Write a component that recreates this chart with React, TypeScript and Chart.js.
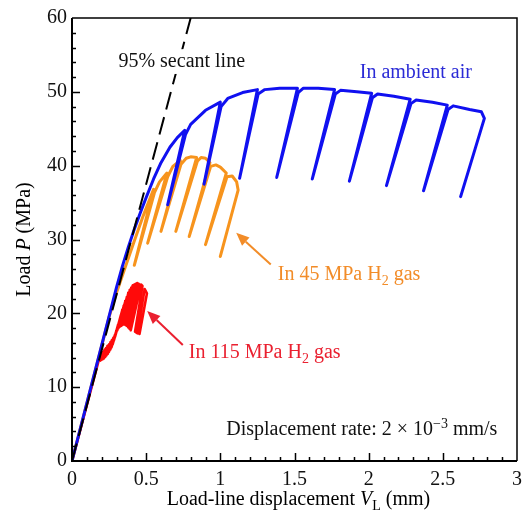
import React, { useEffect, useRef } from "react";
import { Chart, registerables } from "chart.js";

Chart.register(...registerables);

// ---------------- data ----------------
const xTickValues = [0, 0.5, 1, 1.5, 2, 2.5, 3];
const yTickValues = [0, 10, 20, 30, 40, 50, 60];

// 95% secant line
const secantX = [0, 0.8];
const secantY = [0, 60];

// In ambient air
const airX = [0, 0.30, 0.34, 0.38, 0.42, 0.46, 0.50, 0.55, 0.60, 0.66, 0.71, 0.76, 0.645, 0.765, 0.80, 0.90, 1.00, 0.89, 1.005, 1.05, 1.15, 1.25, 1.13, 1.255, 1.30, 1.40, 1.52, 1.38, 1.525, 1.56, 1.66, 1.77, 1.62, 1.775, 1.81, 1.92, 2.02, 1.87, 2.025, 2.06, 2.17, 2.28, 2.12, 2.285, 2.32, 2.43, 2.53, 2.37, 2.535, 2.57, 2.68, 2.76, 2.78, 2.62];
const airY = [0, 23.5, 26.4, 29.0, 31.4, 33.6, 35.7, 38.2, 40.4, 42.5, 43.8, 44.8, 34.7, 44.2, 45.6, 47.5, 48.6, 37.5, 48.0, 49.1, 49.9, 50.3, 38.3, 49.7, 50.3, 50.5, 50.5, 38.4, 49.9, 50.5, 50.5, 50.3, 38.2, 49.7, 50.2, 50.0, 49.8, 37.9, 49.2, 49.7, 49.4, 49.0, 37.3, 48.4, 48.9, 48.6, 48.2, 36.6, 47.6, 48.1, 47.6, 47.3, 46.4, 35.8];

// In 45 MPa H2 gas
const h45X = [0, 0.25, 0.30, 0.36, 0.42, 0.48, 0.55, 0.42, 0.555, 0.59, 0.64, 0.51, 0.645, 0.68, 0.73, 0.60, 0.735, 0.77, 0.80, 0.84, 0.70, 0.845, 0.87, 0.90, 0.93, 0.79, 0.935, 0.97, 1.00, 1.04, 0.90, 1.045, 1.08, 1.11, 1.12, 1.00];
const h45Y = [0, 19.5, 22.8, 26.3, 29.8, 33.2, 36.8, 26.5, 36.3, 37.8, 39.0, 29.5, 38.5, 39.9, 40.7, 31.1, 40.2, 41.0, 41.2, 41.1, 31.1, 40.6, 41.1, 41.0, 40.4, 30.4, 39.9, 40.1, 39.8, 39.0, 29.3, 38.5, 38.6, 37.8, 36.7, 27.7];

// In 115 MPa H2 gas
const h115X = [0, 0.185, 0.20, 0.19, 0.21, 0.198, 0.22, 0.207, 0.23, 0.215, 0.24, 0.224, 0.25, 0.232, 0.26, 0.241, 0.27, 0.249, 0.28, 0.258, 0.29, 0.266, 0.30, 0.274, 0.31, 0.282, 0.32, 0.29, 0.33, 0.297, 0.34, 0.305, 0.35, 0.313, 0.36, 0.322, 0.37, 0.33, 0.38, 0.338, 0.39, 0.346, 0.40, 0.353, 0.41, 0.362, 0.42, 0.37, 0.43, 0.379, 0.44, 0.388, 0.45, 0.396, 0.465, 0.475, 0.425, 0.44, 0.49, 0.505, 0.455];
const h115Y = [0, 14.0, 14.5, 13.6, 14.8, 13.7, 15.1, 13.8, 15.3, 13.9, 15.6, 14.1, 15.8, 14.3, 16.1, 14.5, 16.4, 14.8, 16.7, 15.1, 17.1, 15.4, 17.7, 15.8, 18.4, 16.3, 19.0, 16.8, 19.8, 17.3, 20.5, 17.7, 21.1, 18.0, 21.7, 18.2, 22.2, 18.3, 22.8, 18.4, 23.2, 18.5, 23.5, 18.5, 23.8, 18.4, 23.9, 18.3, 24.0, 18.1, 24.1, 17.9, 24.0, 17.7, 23.9, 23.7, 17.5, 17.3, 23.3, 22.7, 17.2];

// ---------------- text ----------------
type Run = { t: string; s?: "i" | "sub" | "sup" };

const yTitle: Run[] = [{ t: "Load " }, { t: "P", s: "i" }, { t: " (MPa)" }];
const xTitle: Run[] = [{ t: "Load-line displacement " }, { t: "V", s: "i" }, { t: "L", s: "sub" }, { t: " (mm)" }];

const BLUE = "#1010f0";
const ORANGE = "#f7941d";
const RED = "#ff0a0a";

const labels: { runs: Run[]; x: number; y: number; color: string; bg?: boolean }[] = [
  { runs: [{ t: "95% secant line" }], x: 0.313, y: 54.1, color: "#111111", bg: true },
  { runs: [{ t: "In ambient air" }], x: 1.94, y: 52.6, color: "#2b2bd6" },
  { runs: [{ t: "In 45 MPa H" }, { t: "2", s: "sub" }, { t: " gas" }], x: 1.387, y: 25.2, color: "#f28c28" },
  { runs: [{ t: "In 115 MPa H" }, { t: "2", s: "sub" }, { t: " gas" }], x: 0.787, y: 14.6, color: "#ea2030" },
  { runs: [{ t: "Displacement rate: 2 \u00d7 10" }, { t: "\u22123", s: "sup" }, { t: " mm/s" }], x: 1.04, y: 4.2, color: "#111111" },
];

const arrows = [
  { x0: 1.34, y0: 26.6, x1: 1.107, y1: 30.9, color: "#f28c28" },
  { x0: 0.747, y0: 15.7, x1: 0.507, y1: 20.3, color: "#ea2030" },
];

const FONT = "'Liberation Serif', 'Times New Roman', serif";

function runFont(r: Run, size: number) {
  const sz = r.s === "sub" || r.s === "sup" ? Math.round(size * 0.7) : size;
  return `${r.s === "i" ? "italic " : ""}${sz}px ${FONT}`;
}

function drawRuns(ctx: CanvasRenderingContext2D, runs: Run[], x: number, y: number, size: number, color: string, align: "left" | "center", bg = false) {
  const widths = runs.map((r) => {
    ctx.font = runFont(r, size);
    return ctx.measureText(r.t).width;
  });
  const total = widths.reduce((a, b) => a + b, 0);
  let cx = align === "center" ? x - total / 2 : x;
  if (bg) {
    ctx.fillStyle = "#ffffff";
    ctx.fillRect(cx - 3, y - size * 0.62, total + 6, size * 1.24);
  }
  ctx.textBaseline = "middle";
  ctx.textAlign = "left";
  ctx.fillStyle = color;
  runs.forEach((r, i) => {
    ctx.font = runFont(r, size);
    const dy = r.s === "sub" ? size * 0.3 : r.s === "sup" ? -size * 0.3 : 0;
    ctx.fillText(r.t, cx, y + dy);
    cx += widths[i];
  });
}

const decorPlugin = {
  id: "decor",
  afterDatasetsDraw(chart: any) {
    const ctx: CanvasRenderingContext2D = chart.ctx;
    const xs = chart.scales.x;
    const ys = chart.scales.y;
    ctx.save();
    arrows.forEach((a) => {
      const x0 = xs.getPixelForValue(a.x0), y0 = ys.getPixelForValue(a.y0);
      const x1 = xs.getPixelForValue(a.x1), y1 = ys.getPixelForValue(a.y1);
      const ang = Math.atan2(y1 - y0, x1 - x0);
      const L = 13, W = 5.5;
      const bx = x1 - L * Math.cos(ang), by = y1 - L * Math.sin(ang);
      ctx.strokeStyle = a.color;
      ctx.fillStyle = a.color;
      ctx.lineWidth = 2;
      ctx.beginPath();
      ctx.moveTo(x0, y0);
      ctx.lineTo(bx, by);
      ctx.stroke();
      ctx.beginPath();
      ctx.moveTo(x1, y1);
      ctx.lineTo(bx + W * Math.sin(ang), by - W * Math.cos(ang));
      ctx.lineTo(bx - W * Math.sin(ang), by + W * Math.cos(ang));
      ctx.closePath();
      ctx.fill();
    });
    labels.forEach((l) => {
      drawRuns(ctx, l.runs, xs.getPixelForValue(l.x), ys.getPixelForValue(l.y), 20, l.color, "left", l.bg);
    });
    ctx.restore();
  },
  afterDraw(chart: any) {
    const ctx: CanvasRenderingContext2D = chart.ctx;
    const { left, right, top, bottom } = chart.chartArea;
    const xs = chart.scales.x;
    const ys = chart.scales.y;
    ctx.save();
    ctx.strokeStyle = "#000";
    ctx.lineWidth = 1.5;
    ctx.beginPath();
    ctx.moveTo(left, top);
    ctx.lineTo(right, top);
    ctx.lineTo(right, bottom);
    ctx.stroke();
    ctx.lineWidth = 2;
    ctx.beginPath();
    ctx.moveTo(left, top);
    ctx.lineTo(left, bottom);
    ctx.lineTo(right, bottom);
    ctx.stroke();
    ctx.lineWidth = 1.5;
    ctx.beginPath();
    for (let i = 1; i < 30; i++) {
      const px = Math.round(xs.getPixelForValue(i / 10)) + 0.5;
      const len = i % 5 === 0 ? 8 : 4;
      ctx.moveTo(px, bottom);
      ctx.lineTo(px, bottom - len);
    }
    for (let i = 1; i < 30; i++) {
      const py = Math.round(ys.getPixelForValue(i * 2)) + 0.5;
      const len = i % 5 === 0 ? 8 : 4;
      ctx.moveTo(left, py);
      ctx.lineTo(left + len, py);
    }
    ctx.stroke();
    drawRuns(ctx, xTitle, (left + right) / 2 + 4, bottom + 39, 20, "#000", "center");
    ctx.translate(left - 47, (top + bottom) / 2);
    ctx.rotate(-Math.PI / 2);
    drawRuns(ctx, yTitle, 0, 0, 20, "#000", "center");
    ctx.restore();
  },
};

function pts(xs: number[], ys: number[]) {
  return xs.map((x, i) => ({ x, y: ys[i] }));
}

export default function App() {
  const ref = useRef<HTMLCanvasElement | null>(null);
  useEffect(() => {
    if (!ref.current) return;
    const chart = new Chart(ref.current, {
      type: "scatter",
      data: {
        datasets: [
          { label: "95% secant line", data: pts(secantX, secantY), showLine: true, borderColor: "#000", borderWidth: 2, borderDash: [18, 8], pointRadius: 0 },
          { label: "In ambient air", data: pts(airX, airY), showLine: true, borderColor: BLUE, borderWidth: 3, pointRadius: 0, borderJoinStyle: "round", borderCapStyle: "round" },
          { label: "In 115 MPa H2 gas", data: pts(h115X, h115Y), showLine: true, borderColor: RED, borderWidth: 2.6, pointRadius: 0, borderJoinStyle: "round", borderCapStyle: "round" },
          { label: "In 45 MPa H2 gas", data: pts(h45X, h45Y), showLine: true, borderColor: ORANGE, borderWidth: 3, pointRadius: 0, borderJoinStyle: "round", borderCapStyle: "round" },
        ],
      } as any,
      options: {
        responsive: false,
        animation: false,
        layout: { padding: { left: 0, top: 18, right: 7, bottom: 0 } },
        plugins: { legend: { display: false }, tooltip: { enabled: false } },
        scales: {
          x: {
            type: "linear",
            min: 0,
            max: 3,
            afterFit: (s: any) => { s.height = 51; },
            afterBuildTicks: (s: any) => { s.ticks = xTickValues.map((v) => ({ value: v })); },
            grid: { display: false, drawTicks: false },
            border: { display: false },
            ticks: { color: "#111", padding: 7, maxRotation: 0, autoSkip: false, font: { family: FONT, size: 20 }, callback: (v: any) => String(v) },
          },
          y: {
            type: "linear",
            min: 0,
            max: 60,
            afterFit: (s: any) => { s.width = 72; },
            afterBuildTicks: (s: any) => { s.ticks = yTickValues.map((v) => ({ value: v })); },
            grid: { display: false, drawTicks: false },
            border: { display: false },
            ticks: { color: "#111", padding: 5, autoSkip: false, font: { family: FONT, size: 20 }, callback: (v: any) => String(v) },
          },
        },
      } as any,
      plugins: [decorPlugin],
    });
    return () => chart.destroy();
  }, []);
  return (
    <div style={{ position: "fixed", left: 0, top: 0, width: 529, height: 512, background: "#fff" }}>
      <canvas ref={ref} width={529} height={512} style={{ display: "block" }} />
    </div>
  );
}
